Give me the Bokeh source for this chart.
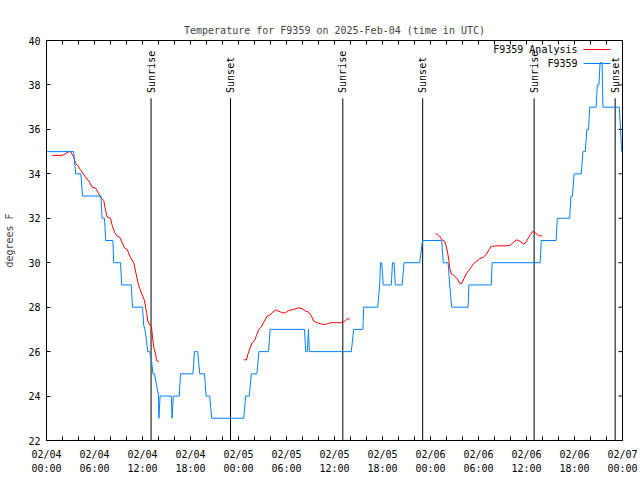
import numpy as np
from bokeh.plotting import figure
from bokeh.models import FixedTicker, DatetimeTickFormatter, Range1d
from bokeh.core.properties import value
from bokeh.embed import file_html
from bokeh.resources import INLINE

# ---------------- data ----------------
start_time = "2025-02-04T00:00"
span_hours = 72

# station observations (hours since start, deg F)
obs_hours = [0.0, 3.4, 3.65, 4.3, 4.5, 6.8, 6.95, 7.25, 7.4, 8.3,
             8.4, 9.25, 9.4, 10.6, 10.75, 12.0, 12.15, 12.3, 12.5, 12.65,
             12.9, 13.1, 13.3, 13.5, 13.75, 14.0, 14.05, 14.2, 15.6, 15.7,
             15.85, 16.6, 16.75, 18.3, 18.5, 18.9, 19.15, 19.75, 19.95, 20.4,
             20.65, 24.65, 24.9, 25.35, 25.6, 26.3, 26.55, 27.75, 27.95, 32.25,
             32.4, 32.6, 32.75, 32.85, 38.1, 38.4, 39.55, 39.65, 41.4, 41.65,
             41.75, 41.9, 42.1, 43.1, 43.25, 43.45, 43.6, 44.45, 44.7, 46.65,
             47.0, 49.4, 49.6, 50.2, 50.4, 50.65, 52.7, 52.8, 55.6, 55.7,
             61.7, 61.85, 63.7, 63.85, 65.4, 65.55, 65.75, 65.95, 66.85, 67.05,
             67.35, 67.55, 67.75, 67.9, 68.7, 68.85, 69.05, 69.2, 69.45, 69.55,
             71.6, 71.75, 71.9, 72.0]
obs_temp = [35, 35, 34, 34, 33, 33, 32, 32, 31, 31,
            30, 30, 29, 29, 28, 28, 27.2, 27, 26.5, 26,
            26, 25.7, 25, 25, 24.5, 24, 23, 24, 24, 23,
            24, 24, 25, 25, 26, 26, 25, 25, 24, 24,
            23, 23, 24, 24, 25, 25, 26, 26, 27, 27,
            26, 26, 27, 26, 26, 27, 27, 28, 28, 29,
            30, 30, 29, 29, 30, 30, 29, 29, 30, 30,
            31, 31, 30, 30, 29, 28, 28, 29, 29, 30,
            30, 31, 31, 32, 32, 33, 33, 34, 34, 35,
            35, 36, 36, 37, 37, 38, 38, 39, 39, 37,
            37, 36, 35, 35]

# analysis (three separate runs)
ana1_hours = [0.71, 1.96, 2.38, 2.79, 3.0, 3.41, 3.63, 3.84, 4.25, 4.59, 4.88, 5.29, 5.71, 6.13,
              6.54, 6.88, 7.16, 7.38, 7.59, 8.0, 8.21, 8.5, 8.84, 9.16, 9.46, 9.75, 10.09, 10.4,
              10.9, 11.2, 11.5, 11.9, 12.25, 12.5, 12.66, 12.91, 13.13, 13.25, 13.41, 13.63,
              13.75, 14.04]
ana1_temp = [34.83, 34.83, 34.9, 35.0, 35.0, 34.75, 34.45, 34.4, 34.18, 34.0, 33.85, 33.67, 33.4,
             33.36, 33.1, 32.9, 32.8, 32.35, 32.05, 32.0, 31.68, 31.37, 31.2, 31.15, 30.9, 30.67,
             30.6, 30.3, 30.0, 29.5, 29.0, 28.6, 28.3, 27.77, 27.37, 27.2, 27.1, 26.65, 26.2,
             25.9, 25.6, 25.55]
ana2_hours = [24.66, 25.0, 25.16, 25.41, 25.71, 26.0, 26.25, 26.54, 26.84, 27.16, 27.59, 27.91,
              28.21, 28.63, 29.04, 29.46, 29.88, 30.29, 30.91, 31.54, 31.96, 32.38, 32.79, 33.09,
              33.41, 33.84, 34.25, 34.66, 35.09, 35.5, 36.34, 36.96, 37.38, 37.59, 37.91]
ana2_temp = [25.63, 25.63, 25.87, 26.12, 26.4, 26.5, 26.73, 27.0, 27.1, 27.32, 27.6, 27.64, 27.75,
             27.88, 27.82, 27.75, 27.75, 27.85, 27.9, 27.97, 27.94, 27.82, 27.77, 27.62, 27.37,
             27.3, 27.25, 27.22, 27.25, 27.3, 27.3, 27.3, 27.4, 27.47, 27.47]
ana3_hours = [48.63, 48.91, 49.16, 49.41, 49.75, 50.0, 50.16, 50.29, 50.41, 50.63, 50.91, 51.34,
              51.66, 51.91, 52.16, 52.5, 52.79, 53.09, 53.41, 53.79, 54.16, 54.59, 55.0, 55.29,
              55.59, 56.13, 57.38, 58.0, 58.34, 58.75, 59.16, 59.59, 59.88, 60.16, 60.5, 60.75,
              61.0, 61.34, 61.63, 61.96]
ana3_temp = [31.3, 31.27, 31.18, 31.03, 30.97, 30.7, 30.4, 30.1, 29.75, 29.48, 29.43, 29.28,
             29.07, 29.07, 29.27, 29.53, 29.65, 29.8, 29.97, 30.07, 30.18, 30.25, 30.38, 30.58,
             30.73, 30.76, 30.76, 30.79, 30.91, 31.03, 30.97, 30.85, 30.88, 31.07, 31.27, 31.4,
             31.37, 31.27, 31.21, 31.21]

# sunrise / sunset events
event_hours = [13.07, 23.0, 37.04, 47.02, 60.95, 71.08]
event_names = ["Sunrise", "Sunset", "Sunrise", "Sunset", "Sunrise", "Sunset"]

y_ticks = [22, 24, 26, 28, 30, 32, 34, 36, 38, 40]
title_text = "Temperature for F9359 on 2025-Feb-04 (time in UTC)"
y_label = "degrees F"
series_names = ["F9359 Analysis", "F9359"]

# ---------------- helpers ----------------
t0 = np.datetime64(start_time, "ms").astype(np.int64).astype(float)
HOUR = 3600.0 * 1000.0
Y0, Y1 = 22, 40
FRAME_W, FRAME_H = 576, 400
TICK_PX = 4


def to_ms(hours):
    return [t0 + h * HOUR for h in hours]


FONT = "DejaVu Sans Mono"
FS = "10px"
RED = "#ff0000"
BLUE = "#0080ff"
COLORS = [RED, BLUE]

x_end = t0 + span_hours * HOUR
p = figure(frame_width=FRAME_W, frame_height=FRAME_H, x_axis_type="datetime",
           x_range=Range1d(t0, x_end), y_range=Range1d(Y0, Y1),
           output_backend="svg", toolbar_location=None,
           min_border_left=46, min_border_right=16, min_border_top=40, min_border_bottom=38)

p.title.text = title_text
p.title.align = "center"
p.title.text_font = FONT
p.title.text_font_size = FS
p.title.text_font_style = "normal"
p.title.standoff = 10

p.xgrid.visible = False
p.ygrid.visible = False
p.outline_line_color = "black"
p.outline_line_alpha = 1.0
p.background_fill_color = "white"
p.border_fill_color = "white"

major_hours = list(range(0, span_hours + 1, 6))
minor_hours = list(range(0, span_hours + 1, 2))
major_x = to_ms(major_hours)
minor_x = to_ms(minor_hours)
fmt = "%m/%d\n%H:%M"
xfmt = DatetimeTickFormatter(microseconds=fmt, milliseconds=fmt, seconds=fmt, minsec=fmt,
                             minutes=fmt, hourmin=fmt, hours=fmt, days=fmt, months=fmt,
                             years=fmt, context=None)


def style_axis(ax):
    ax.axis_line_color = "black"
    ax.major_tick_in = TICK_PX
    ax.major_tick_out = 0
    ax.minor_tick_in = TICK_PX
    ax.minor_tick_out = 0
    ax.major_tick_line_color = "black"
    ax.minor_tick_line_color = "black"
    ax.major_label_text_font = FONT
    ax.major_label_text_font_size = FS
    ax.major_label_text_color = "black"


xa = p.xaxis[0]
xa.ticker = FixedTicker(ticks=major_x, minor_ticks=minor_x)
xa.formatter = xfmt
style_axis(xa)
xa.major_label_standoff = 8
xa.major_label_text_line_height = 1.35

ya = p.yaxis[0]
ya.ticker = FixedTicker(ticks=y_ticks, minor_ticks=[])
style_axis(ya)
ya.minor_tick_in = 0
ya.major_label_standoff = 6
ya.axis_label = y_label
ya.axis_label_text_font = FONT
ya.axis_label_text_font_size = FS
ya.axis_label_text_font_style = "normal"
ya.axis_label_standoff = 10

# mirrored inward ticks on the top and right edges (positions from the tick lists)
dy_tick = (Y1 - Y0) / FRAME_H * TICK_PX
dx_tick = span_hours * HOUR / FRAME_W * TICK_PX
p.segment(x0=minor_x, y0=[Y1] * len(minor_x), x1=minor_x, y1=[Y1 - dy_tick] * len(minor_x),
          line_color="black", line_width=1)
p.segment(x0=[x_end] * len(y_ticks), y0=y_ticks, x1=[x_end - dx_tick] * len(y_ticks), y1=y_ticks,
          line_color="black", line_width=1)

# sunrise/sunset markers
ev_x = to_ms(event_hours)
p.segment(x0=ev_x, y0=[37.4] * len(ev_x), x1=ev_x, y1=[Y0] * len(ev_x),
          line_color="black", line_width=1)
p.text(x=ev_x, y=[37.64] * len(ev_x), text=event_names, angle=np.pi / 2,
       text_align="left", text_baseline="middle", text_font=value(FONT),
       text_font_size=FS, text_color="black")

# series
ana_runs = [(ana1_hours, ana1_temp), (ana2_hours, ana2_temp), (ana3_hours, ana3_temp)]
for h, t in ana_runs:
    p.line(to_ms(h), t, line_color=RED, line_width=1)
p.line(to_ms(obs_hours), obs_temp, line_color=BLUE, line_width=1)

# gnuplot-style key in the top-right corner: right-aligned label, then a line sample
px_x = span_hours * HOUR / FRAME_W          # ms per pixel
px_y = (Y1 - Y0) / FRAME_H                  # deg per pixel
key_rows = [Y1 - 9 * px_y, Y1 - 23 * px_y]
key_text_x = x_end - 45 * px_x
key_s0 = x_end - 39 * px_x
key_s1 = x_end - 12 * px_x
p.text(x=[key_text_x] * 2, y=key_rows, text=series_names, text_align="right",
       text_baseline="middle", text_font=value(FONT), text_font_size=FS, text_color="black")
for row_y, col in zip(key_rows, COLORS):
    p.line(x=[key_s0, key_s1], y=[row_y, row_y], line_color=col, line_width=1.2)

open("out.html", "w").write(file_html(p, INLINE))
